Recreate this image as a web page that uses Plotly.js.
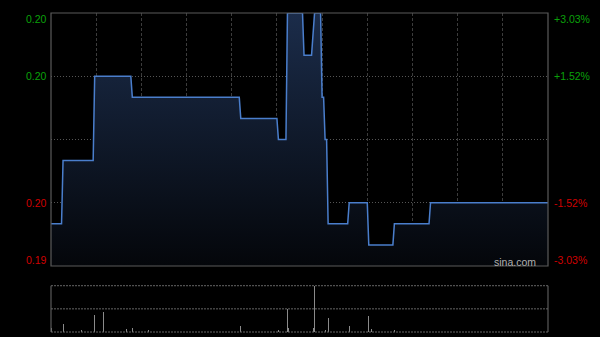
<!DOCTYPE html>
<html>
<head>
<meta charset="utf-8">
<script src="https://cdn.plot.ly/plotly-3.0.1.min.js"></script>
<style>
html,body{margin:0;padding:0;background:#000;}
#chart{width:600px;height:337px;}
</style>
</head>
<body>
<div id="chart"></div>
<script>
// Intraday (HK session, minutes from 09:30; lunch break collapsed at minute 150)
const minutes = [0,7,8,28,29,53,54,125,126,150,151,156,157,167,168,173,175,179,180,181,182,183,184,197,198,210,211,227,228,251,252,330];
const prices  = [0.194,0.194,0.197,0.197,0.201,0.201,0.200,0.200,0.199,0.199,0.198,0.198,0.204,0.204,0.202,0.202,0.204,0.204,0.200,0.200,0.198,0.198,0.194,0.194,0.195,0.195,0.193,0.193,0.194,0.194,0.195,0.195];

const volMinutes = [0,8,20,29,35,50,54,65,126,151,157,158,174,175,182,184,198,211,213,228];
const volumes    = [40000,80000,20000,170000,200000,30000,40000,15000,60000,15000,230000,40000,40000,460000,15000,137000,60000,157000,25000,15000];

const prevClose = 0.198;
const priceLevels = [0.204, 0.201, 0.195, 0.192];
const leftLabels  = ['0.20', '0.20', '0.20', '0.19'];
const rightLabels = ['+3.03%', '+1.52%', '-1.52%', '-3.03%'];
const gridLevels  = [0.195, 0.198, 0.201];

const yMin = 0.192, yMax = 0.204, tMax = 330, volMax = 460000;
const green = '#0aa00a', red = '#d00000';

const traces = [
  {x:[0,tMax], y:[yMin,yMin], mode:'lines', line:{width:0,color:'rgba(0,0,0,0)'}, hoverinfo:'skip', showlegend:false, xaxis:'x', yaxis:'y'},
  {x:minutes, y:prices, mode:'lines', fill:'tonexty',
   fillgradient:{type:'vertical', start:yMin, stop:yMax, colorscale:[[0,'rgb(4,6,10)'],[1,'rgb(27,44,74)']]},
   line:{color:'rgb(74,126,204)', width:1.5}, showlegend:false, xaxis:'x', yaxis:'y'},
  {x:volMinutes, y:volumes, type:'bar', width:0.7, marker:{color:'#8a8a8a', line:{width:0}}, showlegend:false, xaxis:'x2', yaxis:'y2'}
];

const annotations = [];
priceLevels.forEach((p,i)=>{
  const col = p > prevClose ? green : red;
  const shift = i===0 ? -6 : (i===priceLevels.length-1 ? 6 : 0);
  annotations.push({xref:'x domain', x:0, yref:'y', y:p, xanchor:'right', yanchor:'middle', xshift:-2, yshift:shift,
    text:leftLabels[i], showarrow:false, font:{family:'Liberation Sans, Arial', size:10.5, color:col}});
  annotations.push({xref:'x domain', x:1, yref:'y', y:p, xanchor:'left', yanchor:'middle', xshift:4, yshift:shift,
    text:rightLabels[i], showarrow:false, font:{family:'Liberation Sans, Arial', size:10.5, color:col}});
});
annotations.push({xref:'x domain', x:1, yref:'y', y:yMin, xanchor:'right', yanchor:'middle', xshift:-10, yshift:4.5,
  text:'sina.com', showarrow:false, font:{family:'Liberation Sans, Arial', size:10.5, color:'#b0b0b0'}});

const borderCol = '#5a5a5a';
const shapes = [
  {type:'rect', xref:'x domain', yref:'y domain', x0:0, x1:1, y0:0, y1:1, line:{color:borderCol, width:1.2}, layer:'above'},
  {type:'line', xref:'x2 domain', yref:'y2 domain', x0:0, x1:0, y0:0, y1:1, line:{color:borderCol, width:1.2}},
  {type:'line', xref:'x2 domain', yref:'y2 domain', x0:1, x1:1, y0:0, y1:1, line:{color:borderCol, width:1.2}},
  {type:'line', xref:'x2 domain', yref:'y2 domain', x0:0, x1:1, y0:1, y1:1, line:{color:'#666', width:1, dash:'2px,1px'}},
  {type:'line', xref:'x2 domain', yref:'y2 domain', x0:0, x1:1, y0:0.5, y1:0.5, line:{color:'#666', width:1, dash:'2px,1px'}},
  {type:'line', xref:'x2 domain', yref:'y2 domain', x0:0, x1:1, y0:0, y1:0, line:{color:'#666', width:1, dash:'2px,1px'}}
];

const layout = {
  width:600, height:337,
  paper_bgcolor:'#000', plot_bgcolor:'#000',
  margin:{l:51, r:52, t:13, b:5},
  showlegend:false, hovermode:false,
  xaxis:{range:[0,tMax], domain:[0,1], anchor:'y', showticklabels:false, ticks:'', zeroline:false,
         showgrid:true, dtick:30, tick0:0, gridcolor:'#3c3c3c', griddash:'3px,2px', gridwidth:1},
  yaxis:{range:[yMin,yMax], domain:[0.2069,1], showticklabels:false, ticks:'', zeroline:false,
         tickmode:'array', tickvals:gridLevels, showgrid:true, gridcolor:'#555', griddash:'1px,2px', gridwidth:1},
  xaxis2:{range:[0,tMax], domain:[0,1], anchor:'y2', showticklabels:false, ticks:'', zeroline:false, showgrid:false},
  yaxis2:{range:[0,volMax], domain:[0,0.1451], anchor:'x2', showticklabels:false, ticks:'', zeroline:false, showgrid:false},
  annotations:annotations,
  shapes:shapes,
  bargap:0
};

Plotly.newPlot('chart', traces, layout, {displayModeBar:false, staticPlot:true});
</script>
</body>
</html>
